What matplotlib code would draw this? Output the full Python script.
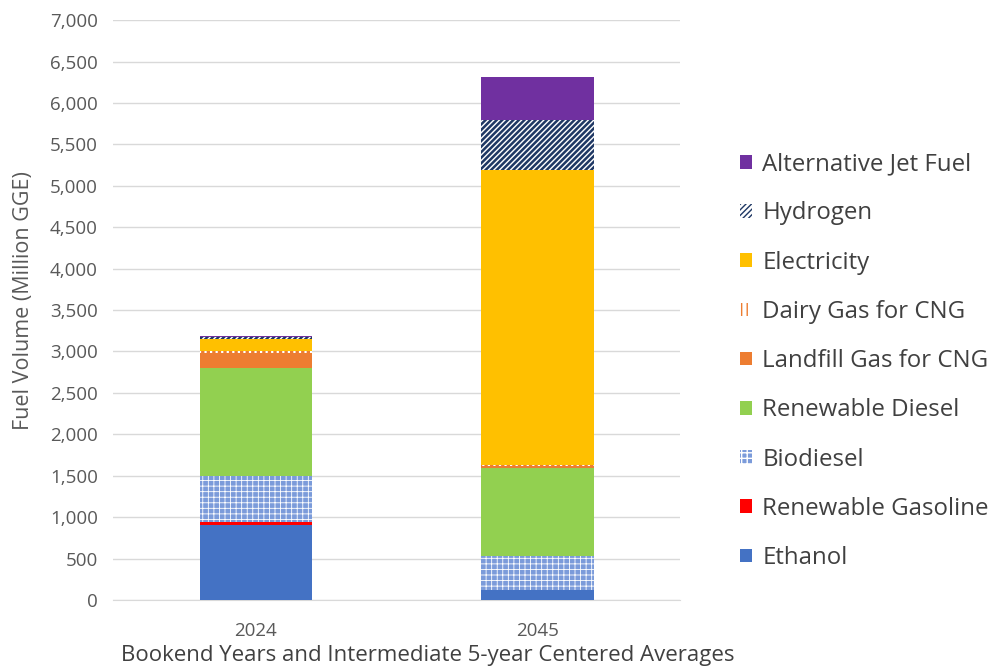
import matplotlib
matplotlib.use("Agg")
import matplotlib.pyplot as plt
import numpy as np

plt.rcParams['font.family'] = ['Open Sans', 'DejaVu Sans']

years = ['2024', '2045']
fuels = ['Ethanol', 'Renewable Gasoline', 'Biodiesel', 'Renewable Diesel',
         'Landfill Gas for CNG', 'Dairy Gas for CNG', 'Electricity',
         'Hydrogen', 'Alternative Jet Fuel']

# million GGE per fuel, for 2024 and 2045
ethanol = [910, 120]
renewable_gasoline = [30, 0]
biodiesel = [560, 410]
renewable_diesel = [1300, 1060]
landfill_gas = [180, 30]
dairy_gas = [25, 5]
electricity = [140, 3570]
hydrogen = [25, 605]
jet_fuel = [20, 515]

series = [ethanol, renewable_gasoline, biodiesel, renewable_diesel,
          landfill_gas, dairy_gas, electricity, hydrogen, jet_fuel]

# (facecolor, hatch, hatch colour, hatch linewidth)
styles = [
    ('#4472C4', None, None, 1.0),
    ('#FF0000', None, None, 1.0),
    ('#7B9BDA', '+++', 'white', 0.6),
    ('#92D050', None, None, 1.0),
    ('#ED7D31', None, None, 1.0),
    ('white', '|||', '#ED7D31', 2.4),
    ('#FFC000', None, None, 1.0),
    ('white', '//////', '#1F3864', 1.8),
    ('#7030A0', None, None, 1.0),
]

fig = plt.figure(figsize=(9.97, 6.70), dpi=100)
ax = fig.add_axes([0.1133, 0.1045, 0.5687, 0.8655])

x = np.arange(len(years))
bottom = np.zeros(len(years))
handles = []
for name, vals, (fc, hatch, hc, hlw) in zip(fuels, series, styles):
    vals = np.array(vals, dtype=float)
    with plt.rc_context({'hatch.linewidth': hlw}):
        if hatch:
            bars = ax.bar(x, vals, 0.40, bottom=bottom, color=fc,
                          edgecolor=hc, hatch=hatch, linewidth=0, label=name, zorder=3)
        else:
            bars = ax.bar(x, vals, 0.40, bottom=bottom, color=fc,
                          linewidth=0, label=name, zorder=3)
    handles.append(bars)
    bottom += vals

ax.set_xlim(-0.507, 1.504)
ax.set_ylim(0, 7000)
ax.set_yticks(np.arange(0, 7001, 500))
ax.yaxis.set_major_formatter(matplotlib.ticker.FuncFormatter(lambda v, p: f'{int(v):,}'))
ax.set_xticks(x)
ax.set_xticklabels(years)
ax.grid(axis='y', color='#D9D9D9', linewidth=1, zorder=0)
for s in ['top', 'right', 'left']:
    ax.spines[s].set_visible(False)
ax.spines['bottom'].set_color('#D9D9D9')
ax.tick_params(axis='both', length=0, labelsize=13.5, colors='#595959')
ax.tick_params(axis='x', pad=16)
ax.tick_params(axis='y', pad=11)

ax.set_ylabel('Fuel Volume (Million GGE)', fontsize=15.5, color='#595959')
ax.yaxis.set_label_coords(-0.14, 0.517)
ax.set_xlabel('Bookend Years and Intermediate 5-year Centered Averages',
              fontsize=16, color='#404040')
ax.xaxis.set_label_coords(0.556, -0.078)

leg = fig.legend(handles[::-1], fuels[::-1], loc='center left',
                 bbox_to_anchor=(0.7208, 0.461), frameon=False,
                 fontsize=17.3, handlelength=0.5, handleheight=0.5,
                 handletextpad=0.42, labelspacing=1.05)
for t in leg.get_texts():
    t.set_color('#404040')

fig.savefig('out.png', dpi=100)
